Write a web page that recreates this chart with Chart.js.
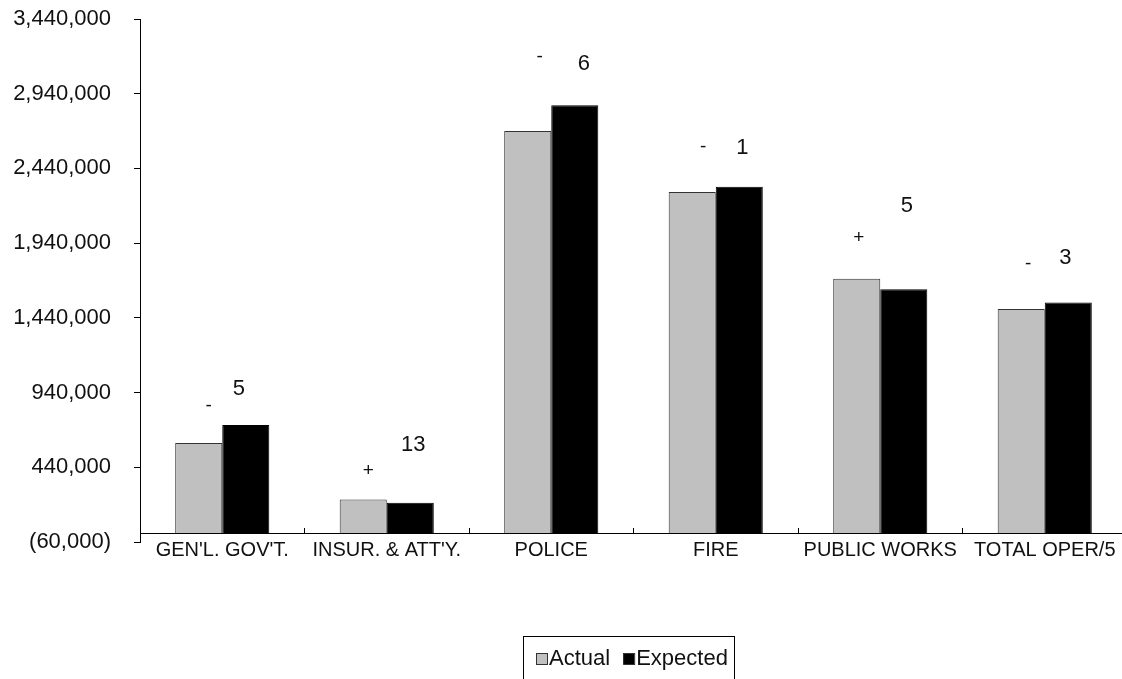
<!DOCTYPE html>
<html>
<head>
<meta charset="utf-8">
<script src="https://cdn.jsdelivr.net/npm/chart.js@4.4.1/dist/chart.umd.min.js"></script>
<style>
    body { margin: 0; background: #fff; overflow: hidden; }
    #caixa { width: 1130px; height: 679px; }
</style>
</head>
<body>
<div id="caixa"><canvas id="grafico"></canvas></div>
<script>
// dados
const categorias = ["GEN'L. GOV'T.", "INSUR. & ATT'Y.", "POLICE", "FIRE", "PUBLIC WORKS", "TOTAL OPER/5"];
const actual = [602000, 225000, 2691000, 2282000, 1702000, 1499000];
const expected = [723000, 203000, 2863000, 2318000, 1631000, 1542000];
const sinais = ['-', '+', '-', '-', '+', '-'];
const numeros = ['5', '13', '6', '1', '5', '3'];
const yMin = -60000;
const yMax = 3440000;
const yPasso = 500000;

const fonte = '"Liberation Sans", Arial, sans-serif';

// deslocamentos (px) dos rotulos em cima das barras
const desloc = {
    sinalX: [10, 5, 12, 11, 2, 7],
    sinalY: [-37, -29, -74, -45, -41, -45],
    numX: [-7, 3, 9, 3, 3, -3],
    numY: [-36, -58, -41, -39, -83, -45]
};

function formatarValor(v) {
    let s = Math.abs(v).toLocaleString('en-US');
    return v < 0 ? '(' + s + ')' : s;
}

const marcas = {
    id: 'marcas',
    afterDatasetsDraw(chart) {
        const ctx = chart.ctx;
        const barrasA = chart.getDatasetMeta(0).data;
        const barrasE = chart.getDatasetMeta(1).data;
        ctx.save();
        ctx.fillStyle = '#111';
        ctx.textAlign = 'center';
        ctx.textBaseline = 'middle';
        for (let i = 0; i < categorias.length; i++) {
            ctx.font = '19px ' + fonte;
            ctx.fillText(sinais[i], barrasA[i].x + desloc.sinalX[i], barrasA[i].y + desloc.sinalY[i]);
            ctx.font = '22px ' + fonte;
            ctx.fillText(numeros[i], barrasE[i].x + desloc.numX[i], barrasE[i].y + desloc.numY[i]);
        }
        ctx.restore();
    }
};

const legenda = {
    id: 'legenda',
    afterDraw(chart) {
        const ctx = chart.ctx;
        const area = chart.chartArea;
        const largura = 211;
        const esq = Math.round((area.left + area.right) / 2 - 5 - largura / 2);
        const topo = Math.round(area.bottom + 94);
        ctx.save();
        ctx.strokeStyle = '#000';
        ctx.lineWidth = 1;
        ctx.strokeRect(esq + 0.5, topo + 0.5, largura, 50);
        ctx.font = '22px ' + fonte;
        ctx.textBaseline = 'middle';
        let x = esq + 13;
        chart.data.datasets.forEach(function (ds) {
            ctx.fillStyle = ds.backgroundColor;
            ctx.fillRect(x, topo + 17, 11, 11);
            ctx.strokeStyle = '#333';
            ctx.strokeRect(x + 0.5, topo + 17.5, 11, 11);
            ctx.fillStyle = '#111';
            ctx.fillText(ds.label, x + 13, topo + 23);
            x += 13 + ctx.measureText(ds.label).width + 13;
        });
        ctx.restore();
    }
};

function plotarGrafico() {

    let dados = {
        labels: categorias,
        datasets: [{
            label: 'Actual',
            data: actual,
            backgroundColor: '#C0C0C0',
            borderColor: '#333',
            borderWidth: 1
        },
        {
            label: 'Expected',
            data: expected,
            backgroundColor: '#000000',
            borderColor: '#000',
            borderWidth: 1
        }]
    };

    const config = {
        type: 'bar',
        data: dados,
        options: {
            responsive: true,
            maintainAspectRatio: false,
            animation: false,
            layout: { padding: { top: 19, bottom: 137, left: 0, right: 3 } },
            datasets: {
                bar: { categoryPercentage: 0.572, barPercentage: 1.0 }
            },
            scales: {
                x: {
                    position: { y: 0 },
                    offset: true,
                    grid: { offset: true, drawOnChartArea: false, drawTicks: true, tickLength: -6, color: '#000' },
                    border: { color: '#000', width: 1 },
                    ticks: {
                        autoSkip: false,
                        maxRotation: 0,
                        minRotation: 0,
                        padding: 11,
                        color: '#111',
                        font: { family: fonte, size: 20 }
                    },
                    afterFit(scale) {
                        scale.paddingLeft = 0;
                        scale.paddingRight = 0;
                    }
                },
                y: {
                    min: yMin,
                    max: yMax,
                    grid: { drawOnChartArea: false, drawTicks: true, tickLength: 6, color: '#000' },
                    border: { color: '#000', width: 1 },
                    ticks: {
                        stepSize: yPasso,
                        padding: 23,
                        color: '#111',
                        font: { family: fonte, size: 22 },
                        callback: function (v) { return formatarValor(v); }
                    },
                    afterFit(scale) {
                        scale.width = 140;
                        scale.paddingTop = 0;
                        scale.paddingBottom = 0;
                    }
                }
            },
            plugins: {
                legend: { display: false },
                tooltip: { enabled: false }
            }
        },
        plugins: [marcas, legenda]
    };

    let myChart = new Chart(document.getElementById('grafico'), config);
}

plotarGrafico();
</script>
</body>
</html>
